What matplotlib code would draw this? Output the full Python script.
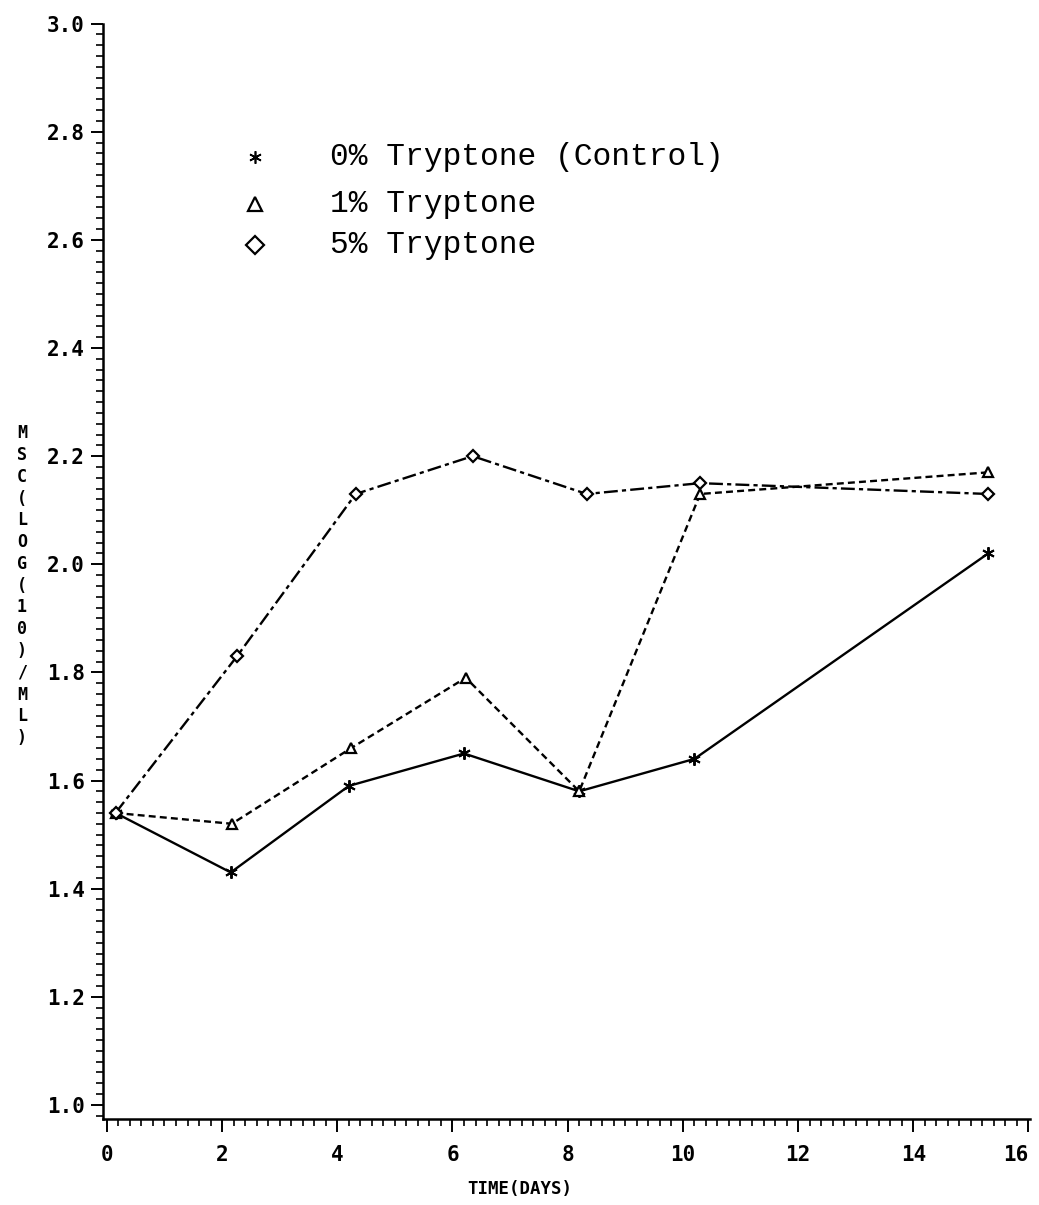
import matplotlib
matplotlib.use("Agg")
import matplotlib.pyplot as plt
from matplotlib.lines import Line2D
from matplotlib.ticker import MultipleLocator, FormatStrFormatter

# Mean somatic cell counts, log10 per ml, by day of storage
DAYS_CONTROL = [0.15, 2.15, 4.2, 6.2, 8.2, 10.2, 15.3]
MSC_CONTROL = [1.54, 1.43, 1.59, 1.65, 1.58, 1.64, 2.02]

DAYS_1PCT = [0.15, 2.17, 4.24, 6.23, 8.2, 10.3, 15.3]
MSC_1PCT = [1.54, 1.52, 1.66, 1.79, 1.58, 2.13, 2.17]

DAYS_5PCT = [0.15, 2.26, 4.32, 6.35, 8.33, 10.3, 15.3]
MSC_5PCT = [1.54, 1.83, 2.13, 2.20, 2.13, 2.15, 2.13]

LEGEND_LABELS = ["0% Tryptone (Control)", "1% Tryptone", "5% Tryptone"]
Y_LABEL = "MSC(LOG(10)/ML)"
X_LABEL = "TIME(DAYS)"

plt.rcParams["lines.scale_dashes"] = False
MONO = "DejaVu Sans Mono"

fig = plt.figure(figsize=(10.39, 12.05), dpi=100)
ax = fig.add_axes([0.099, 0.0714, 0.892, 0.909])

ax.plot(DAYS_CONTROL, MSC_CONTROL, color="black", lw=1.7, ls="-",
        marker=(6, 2, 0), ms=9, mew=1.4, mec="black")
ax.plot(DAYS_1PCT, MSC_1PCT, color="black", lw=1.7, dashes=(5, 3),
        marker="^", ms=7, mfc="white", mew=1.6, mec="black")
ax.plot(DAYS_5PCT, MSC_5PCT, color="black", lw=1.7, dashes=(10, 3, 3, 3),
        marker="D", ms=6, mfc="white", mew=1.6, mec="black")

ax.set_xlim(-0.07, 16.02)
ax.set_ylim(0.974, 3.0)

for side in ("top", "right"):
    ax.spines[side].set_visible(False)
for side in ("left", "bottom"):
    ax.spines[side].set_linewidth(1.8)

ax.set_xticks(range(0, 17, 2))
ax.set_yticks([v / 10 for v in range(10, 31, 2)])
ax.xaxis.set_minor_locator(MultipleLocator(0.2))
ax.yaxis.set_minor_locator(MultipleLocator(0.02))
ax.yaxis.set_major_formatter(FormatStrFormatter("%.1f"))
ax.xaxis.set_major_formatter(FormatStrFormatter("%d"))

ax.tick_params(which="major", direction="out", length=9, width=1.4, pad=4)
ax.tick_params(which="minor", direction="out", length=5, width=1.2)
ax.tick_params(axis="x", which="major", pad=10)
for lbl in ax.get_xticklabels() + ax.get_yticklabels():
    lbl.set_fontfamily(MONO)
    lbl.set_fontweight("bold")
    lbl.set_fontsize(15)
# keep the last day label inside the page
ax.get_xticklabels()[-1].set_horizontalalignment("right")

# stacked vertical axis title, plotter style
fig.text(0.021, 0.514, "\n".join(Y_LABEL), ha="center", va="center",
         fontsize=12, fontweight="bold", family=MONO, linespacing=1.27)
fig.text(0.50, 0.006, X_LABEL, ha="center", va="bottom",
         fontsize=12.5, fontweight="bold", family=MONO)

# hand-placed key in the upper left
key_markers = [dict(marker=(6, 2, 0), ms=9, mew=1.2, mfc="black"),
               dict(marker="^", ms=10, mew=1.6, mfc="white"),
               dict(marker="D", ms=9, mew=1.6, mfc="white")]
key_y = [0.870, 0.831, 0.797]
for lbl, mk, y in zip(LEGEND_LABELS, key_markers, key_y):
    fig.lines.append(Line2D([0.245], [y], transform=fig.transFigure,
                            color="black", mec="black", **mk))
    fig.text(0.318, y, lbl, ha="left", va="center", fontsize=22.5,
             family="Liberation Mono")

fig.savefig("out.png", dpi=100)
